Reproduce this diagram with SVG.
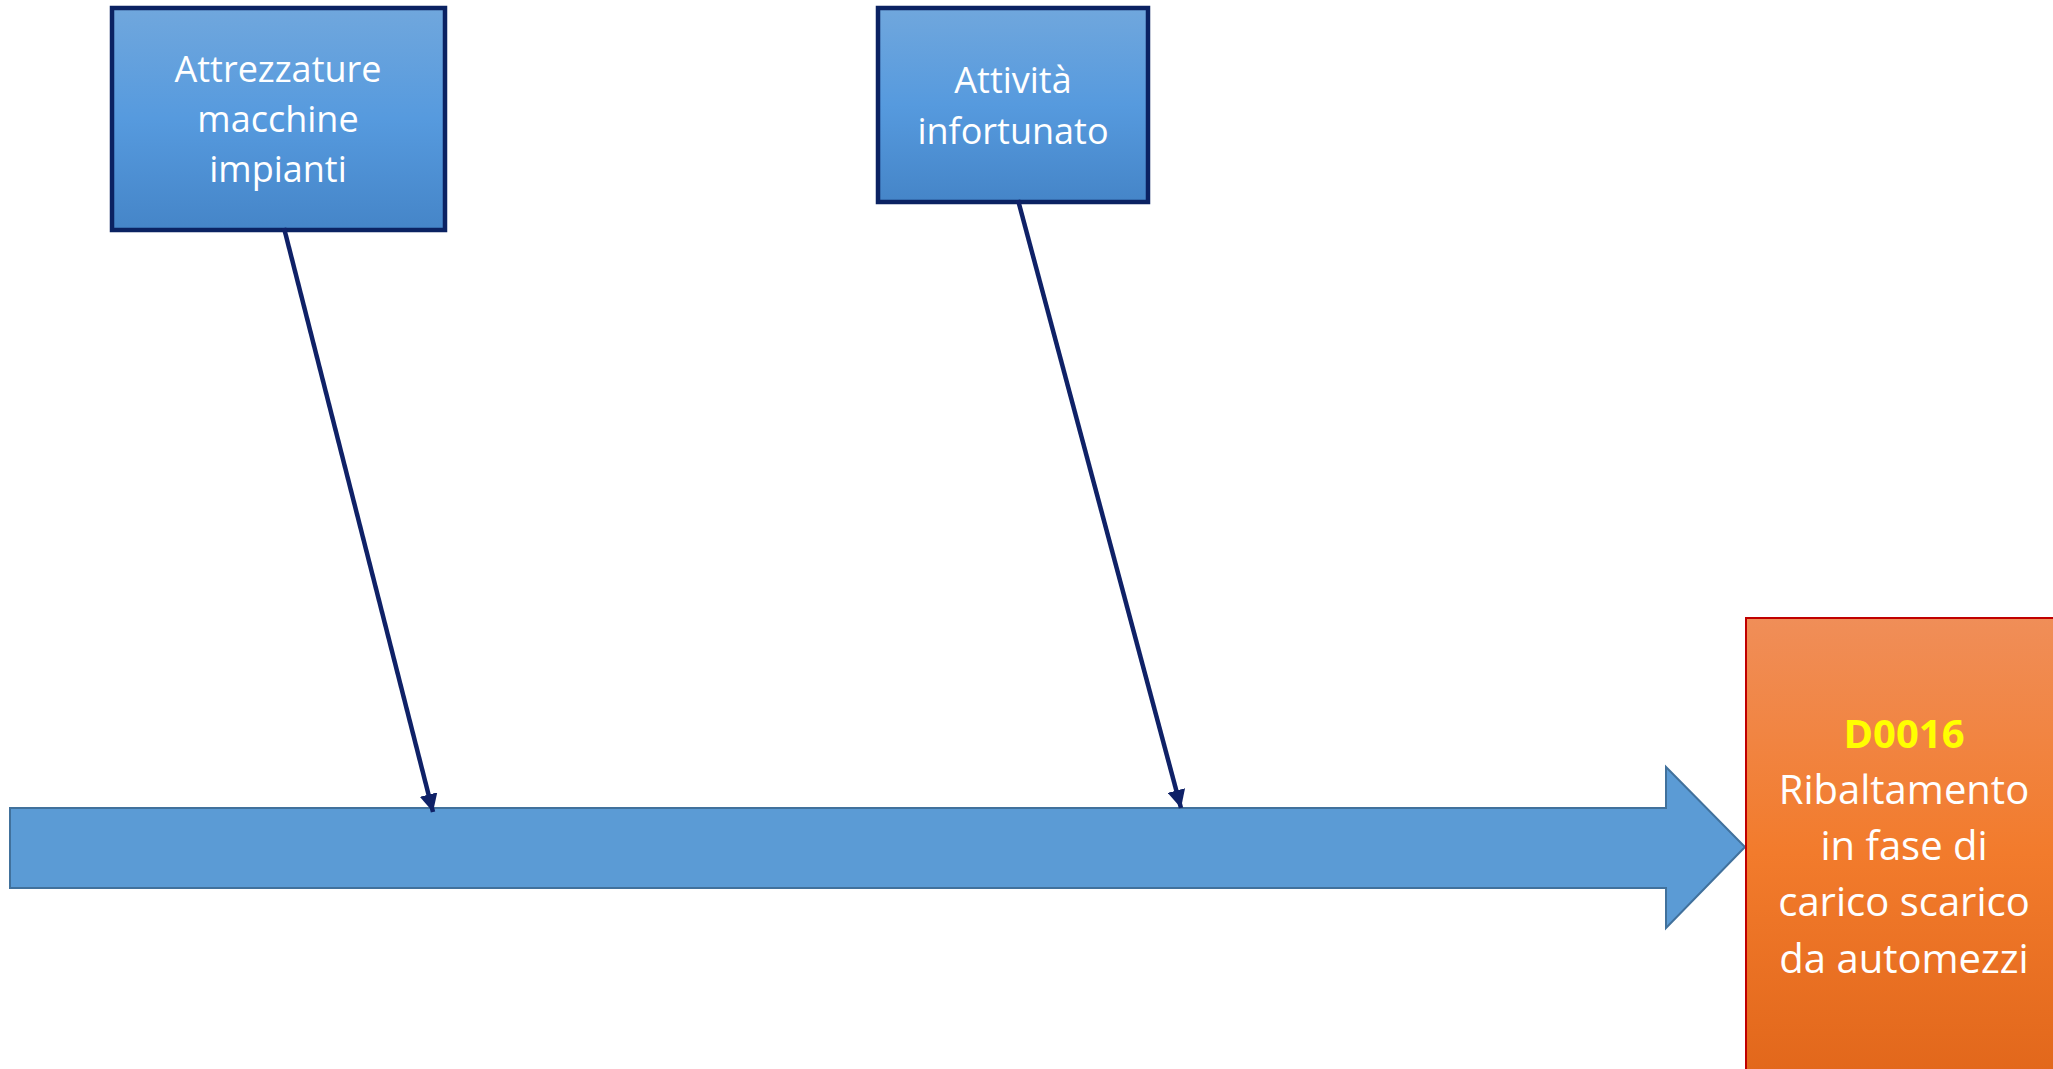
<svg xmlns="http://www.w3.org/2000/svg" width="2053" height="1069" viewBox="0 0 2053 1069">
<defs>
<linearGradient id="gBlue" x1="0" y1="0" x2="0" y2="1">
<stop offset="0" stop-color="#70a7dd"/>
<stop offset="0.5" stop-color="#569ade"/>
<stop offset="1" stop-color="#4585c8"/>
</linearGradient>
<linearGradient id="gOrange" x1="0" y1="0" x2="0" y2="1">
<stop offset="0" stop-color="#f08e58"/>
<stop offset="0.5" stop-color="#f27b2c"/>
<stop offset="1" stop-color="#e1661a"/>
</linearGradient>
<marker id="ah" viewBox="0 0 10 10" refX="10" refY="5" markerWidth="4" markerHeight="4" orient="auto" markerUnits="strokeWidth">
<path d="M0,0 L10,5 L0,10 Z" fill="#0f2167"/>
</marker>
<style>
.cause{fill:url(#gBlue);stroke:#0b2262;stroke-width:4.5}
.lbl{font-family:"Open Sans","Noto Sans",sans-serif;font-size:36px;fill:#ffffff;text-anchor:middle}
.eff{font-family:"Open Sans","Noto Sans",sans-serif;font-size:40px;fill:#ffffff;text-anchor:middle}
.conn{stroke:#0f2167;stroke-width:4.5;fill:none;marker-end:url(#ah)}
</style>
</defs>
<rect width="2053" height="1069" fill="#ffffff"/>
<g id="spine">
<path d="M10,808 L1666,808 L1666,767 L1745,847 L1666,928 L1666,888 L10,888 Z" fill="#5b9bd5" stroke="#41719c" stroke-width="2"/>
</g>
<g id="cause-attrezzature">
<rect class="cause" x="112" y="8" width="333" height="222"/>
<text class="lbl" x="278" y="82">Attrezzature</text>
<text class="lbl" x="278" y="132">macchine</text>
<text class="lbl" x="278" y="182">impianti</text>
</g>
<g id="cause-attivita">
<rect class="cause" x="878" y="8" width="270" height="194"/>
<text class="lbl" x="1013" y="93">Attività</text>
<text class="lbl" x="1013" y="144">infortunato</text>
</g>
<g id="effect">
<rect x="1746" y="618" width="320" height="470" fill="url(#gOrange)" stroke="#c00000" stroke-width="2"/>
<text class="eff" x="1904" y="748" style="fill:#ffff00;font-weight:bold">D0016</text>
<text class="eff" x="1904" y="804">Ribaltamento</text>
<text class="eff" x="1904" y="860">in fase di</text>
<text class="eff" x="1904" y="916">carico scarico</text>
<text class="eff" x="1904" y="973">da automezzi</text>
</g>
<g id="connectors">
<line class="conn" x1="284" y1="228" x2="433" y2="812"/>
<line class="conn" x1="1018" y1="200" x2="1181" y2="808"/>
</g>
</svg>
